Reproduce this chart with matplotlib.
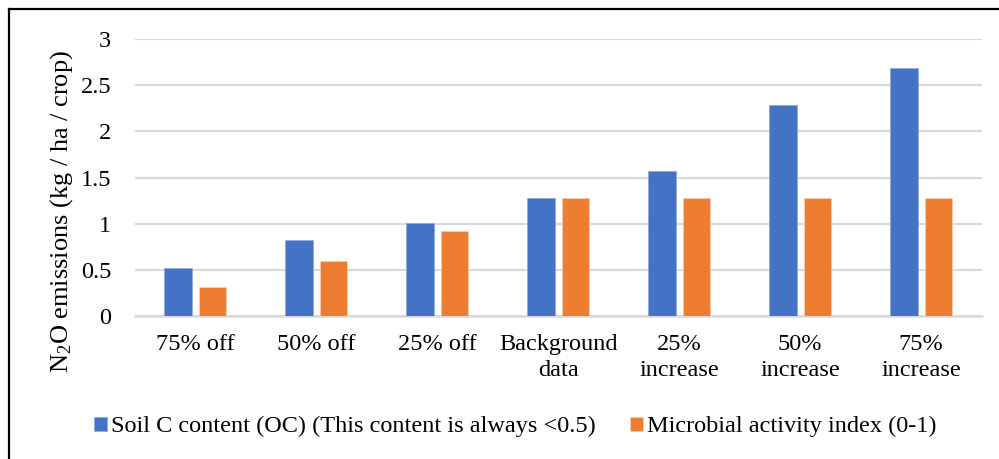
import matplotlib.pyplot as plt
from matplotlib.lines import Line2D
import numpy as np

# categorias e valores das duas séries
cenarios = ['75% off', '50% off', '25% off', 'Background\ndata',
            '25%\nincrease', '50%\nincrease', '75%\nincrease']
soil_c = [0.52, 0.82, 1.01, 1.28, 1.57, 2.29, 2.69]
microbial = [0.31, 0.60, 0.92, 1.28, 1.28, 1.28, 1.28]
yticks = [0, 0.5, 1, 1.5, 2, 2.5, 3]
ytick_labels = ['0', '0.5', '1', '1.5', '2', '2.5', '3']

plt.rcParams['font.family'] = ['Liberation Serif', 'DejaVu Serif']
plt.rcParams['mathtext.fontset'] = 'custom'
plt.rcParams['mathtext.rm'] = 'Liberation Serif'
plt.rcParams['mathtext.it'] = 'Liberation Serif:italic'

fig = plt.figure(figsize=(9.99, 4.59), dpi=100)
ax = fig.add_axes([0.1348, 0.3115, 0.8479, 0.6035])

x = np.arange(len(cenarios))
largura = 0.227
desloc = 0.143
b1 = ax.bar(x - desloc, soil_c, largura, color='#4472C4', edgecolor='#8FAADC',
            linewidth=0.6, label='Soil C content (OC) (This content is always <0.5)', zorder=3)
b2 = ax.bar(x + desloc, microbial, largura, color='#ED7D31', edgecolor='#F8CBAD',
            linewidth=0.6, label='Microbial activity index (0-1)', zorder=3)

ax.set_xlim(-0.5, len(cenarios) - 0.5)
ax.set_ylim(0, 3)
ax.set_yticks(yticks)
ax.set_yticklabels(ytick_labels)
ax.set_xticks(x)
ax.set_xticklabels(cenarios, linespacing=1.3)
ax.tick_params(axis='both', length=0, labelsize=17.5, colors='#000000')
ax.tick_params(axis='y', pad=17)
ax.tick_params(axis='x', pad=13)

# grade horizontal cinza clara, sem molduras
ax.grid(axis='y', color='#D9D9D9', linewidth=1.5, zorder=0)
for lado in ['top', 'right', 'left']:
    ax.spines[lado].set_visible(False)
ax.spines['bottom'].set_color('#D9D9D9')
ax.spines['bottom'].set_linewidth(1.8)

ax.set_ylabel(r'N$_2$O emissions (kg / ha / crop)', fontsize=19)
ax.yaxis.set_label_coords(-0.0705, 0.379)

fig.legend(handles=[b1, b2], loc='center', bbox_to_anchor=(0.516, 0.07),
           ncol=2, frameon=False, fontsize=17.5, handlelength=0.55,
           handleheight=0.55, handletextpad=0.16, columnspacing=1.4)

# moldura do gráfico (só topo e esquerda aparecem)
fig.add_artist(Line2D([0.009, 1.0], [0.981, 0.981], color='black', linewidth=1.6))
fig.add_artist(Line2D([0.009, 0.009], [0.0, 0.981], color='black', linewidth=1.6))

fig.savefig('out.png', dpi=100)
